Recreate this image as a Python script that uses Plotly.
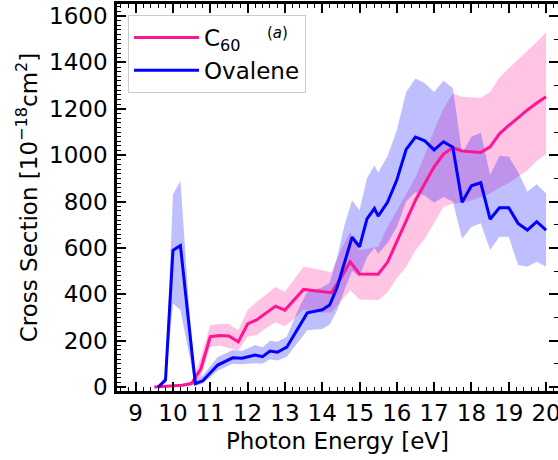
import plotly.graph_objects as go

# ---------------- data ----------------
c60_energy = [9.5, 9.75, 10.0, 10.25, 10.5, 10.75, 11.0, 11.25, 11.5, 11.75,
              12.0, 12.25, 12.5, 12.75, 13.0, 13.25, 13.5, 13.75, 14.0, 14.25,
              14.5, 14.75, 15.0, 15.25, 15.5, 15.75, 16.0, 16.25, 16.5, 16.75,
              17.0, 17.25, 17.5, 17.75, 18.0, 18.25, 18.5, 18.75, 19.0, 19.25,
              19.5, 19.75, 20.0]
c60_sigma = [0, 3, 5, 8, 15, 80, 217, 222, 220, 195,
             272, 290, 320, 349, 332, 376, 421, 416, 412, 407,
             470, 540, 488, 488, 487, 538, 630, 720, 806, 878,
             950, 1005, 1032, 1018, 1015, 1012, 1036, 1092, 1128, 1162,
             1195, 1225, 1252]
c60_low = [0, 0, 2, 4, 8, 45, 174, 178, 168, 158,
           217, 225, 255, 280, 262, 295, 335, 325, 322, 320,
           370, 418, 378, 375, 375, 408, 470, 519, 590, 640,
           710, 777, 792, 795, 805, 820, 835, 860, 880, 907,
           935, 975, 1005]
c60_high = [3, 8, 10, 14, 25, 130, 267, 272, 272, 245,
            332, 368, 400, 432, 411, 465, 519, 512, 505, 495,
            590, 670, 590, 598, 605, 690, 760, 830, 905, 1000,
            1108, 1200, 1266, 1252, 1250, 1247, 1273, 1335, 1375, 1412,
            1450, 1488, 1530]

ova_energy = [9.6, 9.8, 10.0, 10.2, 10.4, 10.6, 10.8, 11.2, 11.6, 11.85,
              12.2, 12.4, 12.6, 12.8, 13.05, 13.25, 13.4, 13.6, 14.0, 14.2,
              14.4, 14.6, 14.8, 15.0, 15.2, 15.4, 15.5, 15.75, 16.0, 16.25,
              16.5, 16.75, 17.0, 17.25, 17.5, 17.75, 18.0, 18.25, 18.5, 18.75,
              19.0, 19.25, 19.5, 19.75, 20.0]
ova_sigma = [0, 30, 590, 610, 310, 15, 27, 95, 126, 124,
             138, 131, 155, 150, 172, 225, 262, 320, 333, 354,
             430, 540, 646, 605, 725, 770, 737, 797, 893, 1025,
             1078, 1062, 1023, 1058, 1034, 797, 868, 881, 724, 773,
             773, 706, 677, 713, 677]
ova_low = [0, 18, 360, 332, 170, 5, 15, 70, 100, 98,
           103, 100, 120, 115, 131, 170, 203, 245, 250, 270,
           330, 420, 500, 476, 560, 600, 575, 620, 690, 800,
           840, 825, 795, 820, 800, 640, 690, 706, 591, 648,
           648, 526, 519, 540, 519]
ova_high = [5, 45, 830, 890, 420, 30, 50, 130, 160, 155,
            181, 172, 200, 195, 217, 290, 350, 410, 430, 450,
            560, 700, 806, 763, 900, 955, 925, 995, 1108, 1273,
            1331, 1310, 1273, 1321, 1290, 1008, 1080, 1097, 914, 996,
            994, 928, 842, 875, 835]

x_ticks = [9, 10, 11, 12, 13, 14, 15, 16, 17, 18, 19, 20]
y_ticks = [0, 200, 400, 600, 800, 1000, 1200, 1400, 1600]

# ---------------- styling ----------------
PINK = "#FF1493"
BLUE = "#0000FF"
PINK_FILL = "rgba(255,20,147,0.25)"
BLUE_FILL = "rgba(0,0,255,0.25)"
FONT = "DejaVu Sans"
FS = 23

L, T, W, H = 117, 4, 558, 460
PLOT_W = W - L
PLOT_H = 391 - T

fig = go.Figure()

# bands
fig.add_trace(go.Scatter(
    x=c60_energy + c60_energy[::-1], y=c60_high + c60_low[::-1],
    fill="toself", fillcolor=PINK_FILL, line=dict(width=0),
    mode="lines", showlegend=False, hoverinfo="skip"))
fig.add_trace(go.Scatter(
    x=ova_energy + ova_energy[::-1], y=ova_high + ova_low[::-1],
    fill="toself", fillcolor=BLUE_FILL, line=dict(width=0),
    mode="lines", showlegend=False, hoverinfo="skip"))

# lines
fig.add_trace(go.Scatter(x=c60_energy, y=c60_sigma, mode="lines",
                         name="C<sub>60</sub>", line=dict(color=PINK, width=3)))
fig.add_trace(go.Scatter(x=ova_energy, y=ova_sigma, mode="lines",
                         name="Ovalene", line=dict(color=BLUE, width=3)))

# invisible trace to attach the right-hand tick axis
fig.add_trace(go.Scatter(x=[c60_energy[0]], y=[c60_sigma[0]], yaxis="y2",
                         mode="markers", marker=dict(opacity=0),
                         showlegend=False, hoverinfo="skip"))

axis_font = dict(family=FONT, size=FS, color="black")

fig.update_layout(
    template="none",
    width=W, height=H,
    margin=dict(l=L, r=0, t=T, b=H - 391, autoexpand=False),
    paper_bgcolor="white", plot_bgcolor="white",
    font=dict(family=FONT, size=FS, color="black"),
    xaxis=dict(
        range=[8.5, 20.32], tickmode="array", tickvals=x_ticks,
        ticktext=[str(v) for v in x_ticks],
        ticks="inside", ticklen=9, tickwidth=1.5, tickcolor="black",
        minor=dict(tick0=9, dtick=0.2, ticks="inside", ticklen=4.5,
                   tickwidth=1.2, tickcolor="black", showgrid=False),
        showline=True, linewidth=2.5, linecolor="black", mirror="ticks",
        showgrid=False, zeroline=False, tickfont=axis_font,
        automargin=False, ticklabeloverflow="allow",
        title=dict(text="Photon Energy [eV]", font=axis_font, standoff=8),
    ),
    yaxis=dict(
        range=[-17, 1652], tickmode="array", tickvals=y_ticks,
        ticktext=[str(v) for v in y_ticks],
        ticks="inside", ticklen=9, tickwidth=1.5, tickcolor="black",
        minor=dict(tick0=0, dtick=20, ticks="inside", ticklen=4.5,
                   tickwidth=1.2, tickcolor="black", showgrid=False),
        showline=True, linewidth=2.5, linecolor="black",
        showgrid=False, zeroline=False, tickfont=axis_font,
        automargin=False, ticklabelstandoff=2, ticklabeloverflow="allow",
        title=dict(text="Cross Section [10<sup>−18</sup>cm<sup>2</sup>]",
                   font=axis_font, standoff=6),
    ),
    yaxis2=dict(
        range=[-17, 1652], overlaying="y", side="right",
        tickmode="array", tickvals=y_ticks, showticklabels=False,
        ticks="inside", ticklen=9, tickwidth=1.5, tickcolor="black",
        minor=dict(tick0=0, dtick=100, ticks="inside", ticklen=4.5,
                   tickwidth=1.2, tickcolor="black", showgrid=False),
        showline=False, showgrid=False, zeroline=False, automargin=False,
    ),
    legend=dict(
        x=(128 - L) / PLOT_W, y=1 - (15 - T) / PLOT_H,
        xanchor="left", yanchor="top",
        bgcolor="rgba(255,255,255,0.8)", bordercolor="#cccccc", borderwidth=1,
        font=dict(family=FONT, size=FS, color="black"),
        itemwidth=65, tracegroupgap=0,
    ),
    annotations=[dict(
        text="(<i>a</i>)", x=(277 - L) / PLOT_W, y=1 - (33 - T) / PLOT_H,
        xref="paper", yref="paper", xanchor="center", yanchor="middle",
        showarrow=False, font=dict(family=FONT, size=15, color="black"))],
)

fig.write_html("out.html",
               config={"displayModeBar": False},
               post_script="document.body.style.margin='0';"
                           "document.body.style.overflow='hidden';")
